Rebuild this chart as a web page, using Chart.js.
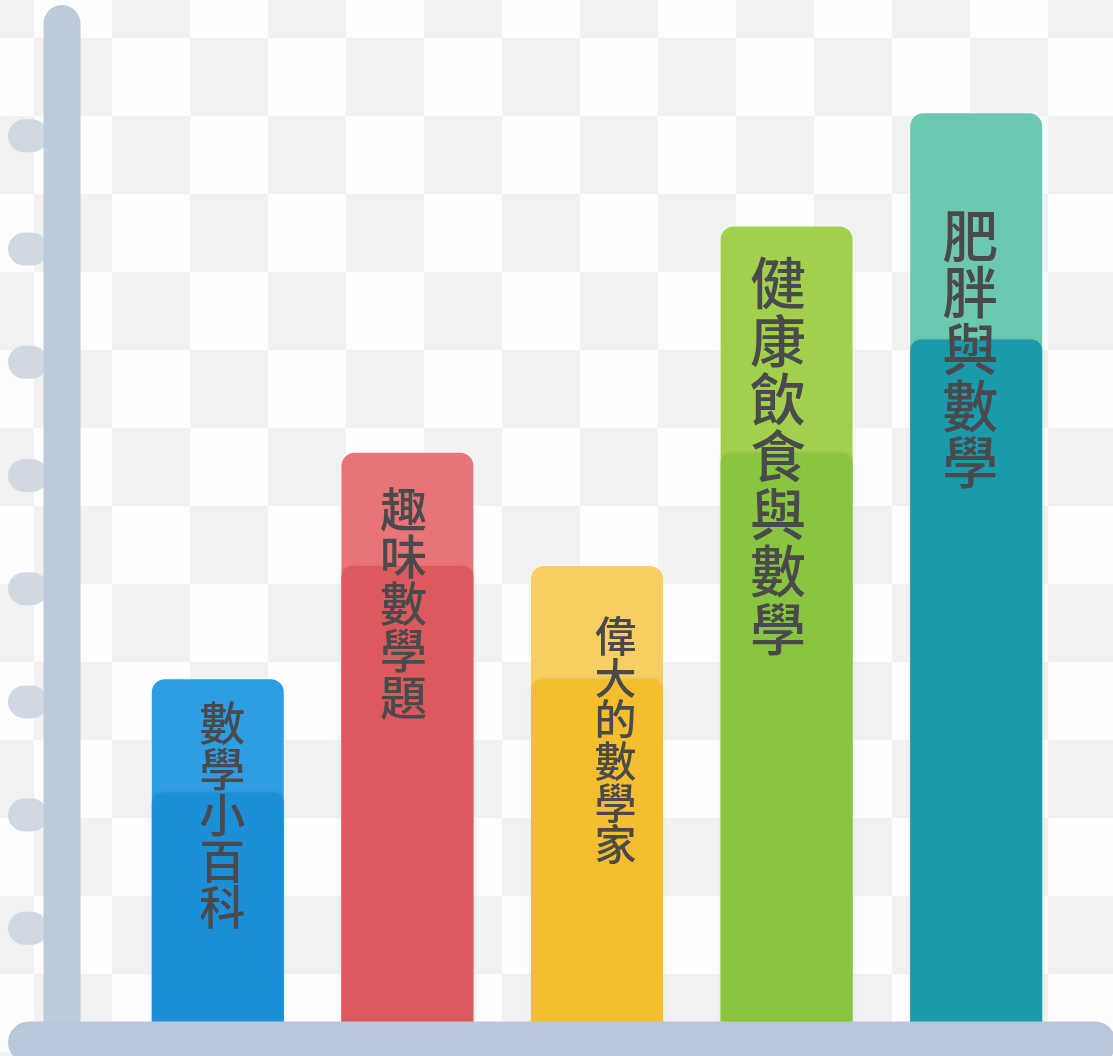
<!DOCTYPE html>
<html><head><meta charset="utf-8">
<script src="https://cdn.jsdelivr.net/npm/chart.js@4.4.1/dist/chart.umd.min.js"></script>
<style>
html,body{margin:0;padding:0;}
body{width:1113px;height:1056px;overflow:hidden;background-color:#fff;
background-image:conic-gradient(#f1f1f2 0 25%, #fdfdfd 0 50%, #f1f1f2 0 75%, #fdfdfd 0);
background-size:156px 156px;background-position:34px 116px;}
#wrap{position:relative;width:1113px;height:1056px;}
</style></head>
<body><div id="wrap"><canvas id="c"></canvas></div>
<script>
// ---- data ----
const categories = ['數學小百科', '趣味數學題', '偉大的數學家', '健康飲食與數學', '肥胖與數學'];
const totalValues = [3.2, 5.2, 4.2, 7.2, 8.2];
const lowerValues = [2.2, 4.2, 3.2, 5.2, 6.2];
const axisTicks = [1, 2, 3, 4, 5, 6, 7, 8];

// ---- styles ----
const lightColors = ['#2f9de2', '#e97478', '#f8cd62', '#a3d04c', '#6cc8b0'];
const darkColors  = ['#1d8fd8', '#dc5a5d', '#f4be2e', '#89c53f', '#1b9aab'];
const labelStyle = [
  {size: 46, pitch: 46,   dx: 4.5,  top: 20},
  {size: 47, pitch: 47,   dx: -4,   top: 33},
  {size: 42, pitch: 41.7, dx: 18.5, top: 49},
  {size: 56, pitch: 57.6, dx: -8.5, top: 28},
  {size: 56, pitch: 56.6, dx: -6,   top: 94}
];

function pill(ctx, x, y, w, h, color) {
  const r = Math.min(w, h) / 2;
  ctx.beginPath();
  ctx.roundRect(x, y, w, h, r);
  ctx.fillStyle = color;
  ctx.fill();
}

const decor = {
  id: 'decor',
  beforeDatasetDraw(chart, args) {
    const ctx = chart.ctx;
    ctx.save();
    ctx.shadowBlur = 4;
    ctx.shadowColor = args.index === 0 ? 'rgba(40,40,40,0.10)' : 'rgba(255,255,255,0.6)';
  },
  afterDatasetDraw(chart) {
    chart.ctx.restore();
  },
  afterDatasetsDraw(chart) {
    const ctx = chart.ctx;
    const area = chart.chartArea;
    const ys = chart.scales.y;
    const zeroY = ys.getPixelForValue(0);
    ctx.save();
    // y-axis nubs
    const axisX = area.left - 61;
    axisTicks.forEach(t => {
      const py = ys.getPixelForValue(t);
      pill(ctx, axisX - 54, py - 16.5, 40, 33, '#d0d9e3');
    });
    // y-axis bar
    pill(ctx, axisX - 18.5, area.top + 5, 37, zeroY - area.top, '#bccad9');
    // x-axis bar
    pill(ctx, 8, zeroY - 20, chart.width - 5, 42, '#b8c7d9');
    // labels
    const meta = chart.getDatasetMeta(1);
    ctx.fillStyle = '#4a4a4c';
    ctx.textAlign = 'center';
    ctx.textBaseline = 'middle';
    meta.data.forEach((bar, i) => {
      const st = labelStyle[i];
      ctx.font = '500 ' + st.size + 'px "Noto Sans CJK TC", "Noto Sans CJK SC", sans-serif';
      const chars = Array.from(categories[i]);
      chars.forEach((ch, k) => {
        ctx.fillText(ch, bar.x + st.dx, bar.y + st.top + st.pitch * (k + 0.5));
      });
    });
    ctx.restore();
  }
};

new Chart(document.getElementById('c'), {
  type: 'bar',
  data: {
    labels: categories,
    datasets: [
      {label: 'lower', data: lowerValues, backgroundColor: darkColors, grouped: false,
       borderRadius: {topLeft: 11, topRight: 11, bottomLeft: 0, bottomRight: 0}, borderSkipped: false,
       barPercentage: 0.696, categoryPercentage: 1.0},
      {label: 'total', data: totalValues, backgroundColor: lightColors, grouped: false,
       borderRadius: {topLeft: 13, topRight: 13, bottomLeft: 0, bottomRight: 0}, borderSkipped: false,
       barPercentage: 0.696, categoryPercentage: 1.0}
    ]
  },
  options: {
    responsive: true,
    maintainAspectRatio: false,
    animation: false,
    layout: {padding: {left: 123, right: 42, top: 0, bottom: 14.5}},
    plugins: {legend: {display: false}, tooltip: {enabled: false}},
    scales: {
      x: {display: false},
      y: {display: false, min: 0, max: 9.2}
    }
  },
  plugins: [decor]
});
</script>
</body></html>
